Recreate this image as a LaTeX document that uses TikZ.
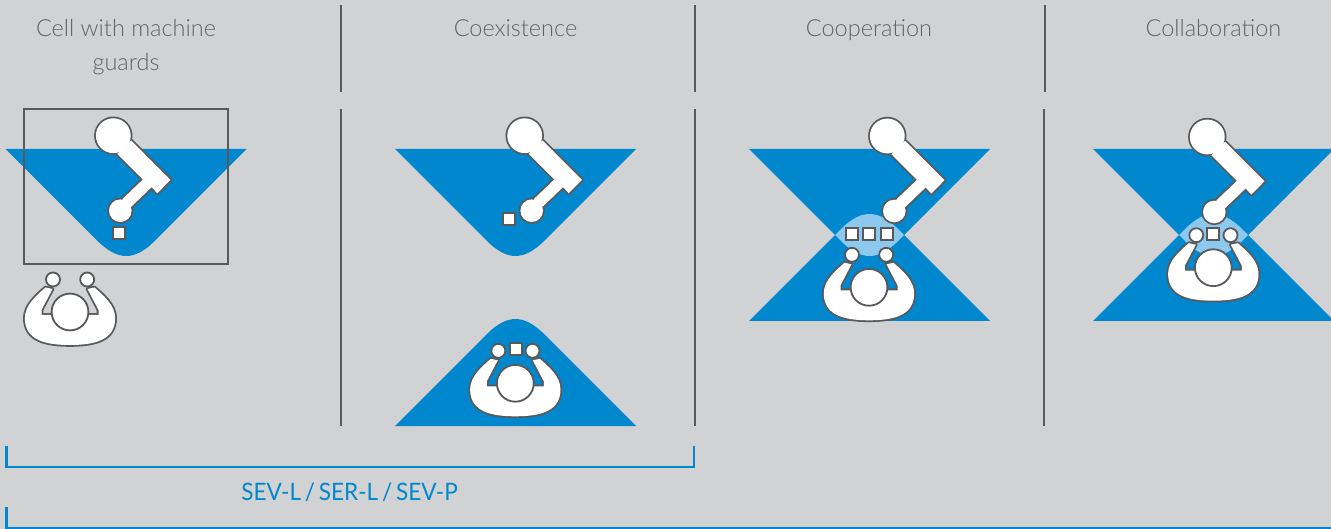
\documentclass[tikz,border=0pt]{standalone}
\usepackage{fontspec}
\setmainfont{Lato Light}
\newfontfamily\labelfont{Lato}
\definecolor{bgc}{HTML}{D0D2D4}
\definecolor{zone}{HTML}{0087CD}
\definecolor{lens}{HTML}{8DC8EE}
\definecolor{ink}{HTML}{58595B}
\definecolor{txt}{HTML}{626365}
\newcommand\downpath{(-120.5,0) -- (120.5,0) -- (27,93.5) .. controls (18,102) and (9,107) .. (0,107) .. controls (-9,107) and (-18,102) .. (-27,93.5) -- cycle}
\newcommand\armlink{(17.8,4.8) -- (57.2,44.2) -- (44,57.6) -- (38.4,51.4) -- (18,71) -- (9,63.5) -- (29.6,43.8) -- (4,18.2) -- cycle}
\newcommand\armbase{(0,0) circle[radius=17.4pt]}
\newcommand\armtool{(7,75) circle[radius=11.3pt]}
\newcommand\bodyshape{(-24.5,-24.5) .. controls (-33,-17) and (-45.2,-7) .. (-45.2,6) .. controls (-45.2,28) and (-25,33) .. (0,33) .. controls (25,33) and (45.2,28) .. (45.2,6) .. controls (45.2,-7) and (33,-17) .. (24.5,-24.5) -- (17.5,-23) -- (28.5,-2) -- (28.5,3) -- (-28.5,3) -- (-28.5,-2) -- (-17.5,-23) -- cycle}
\tikzset{
  x=1pt,y=-1pt,
  outline/.style={draw=ink,line width=3.6pt,line join=round},
  solidwhite/.style={fill=white,draw=none},
  ringed/.style={fill=white,draw=ink,line width=1.8pt},
  divider/.style={draw=ink,line width=2pt},
  bracket/.style={draw=zone,line width=2.2pt},
  head/.style={text=txt,font=\fontsize{23.5}{28}\selectfont,anchor=base,inner sep=0pt},
  arm/.pic={
    \path[outline] \armlink; \path[outline] \armbase; \path[outline] \armtool;
    \path[solidwhite] \armlink; \path[solidwhite] \armbase; \path[solidwhite] \armtool;},
  person/.pic={
    \path[outline] \bodyshape; \path[solidwhite] \bodyshape;
    \path[ringed] (0,0) circle[radius=18.4pt];
    \path[ringed] (-17,-32.5) circle[radius=7pt];
    \path[ringed] (17.2,-32.5) circle[radius=7pt];},
  piece/.pic={\draw[fill=white,draw=ink,line width=1.8pt] (-6,-6) rectangle (6,6);},
  zonedown/.pic={\fill[zone] \downpath;},
  zoneup/.pic={\begin{scope}[yscale=-1]\fill[zone] \downpath;\end{scope}},
  hourglass/.pic={
    \fill[zone] \downpath;
    \begin{scope}[shift={(0,172)},yscale=-1]\fill[zone] \downpath;\end{scope}
    \begin{scope}\clip \downpath;
      \begin{scope}[shift={(0,172)},yscale=-1]\fill[lens] \downpath;\end{scope}
    \end{scope}
  },
}
\begin{document}
\begin{tikzpicture}
\clip (0,0) rectangle (1331,529);
\fill[bgc] (0,0) rectangle (1331,529);
% headings
\node[head] (h1a) at (126,37) {Cell with machine};
\node[head] (h1b) at (126,71) {guards};
\node[head] (h2) at (515.5,37) {Coexistence};
\node[head] (h3) at (869,37) {Cooperation};
\node[head] (h4) at (1213.5,37) {Collaboration};
% dividers
\foreach \a/\b/\c/\d in {340.5/5/340.5/92, 340.5/109/340.5/426, 695/5/695/92, 695/109/695/426, 1045/5/1045/92, 1043.5/109/1043.5/426}
  \draw[divider] (\a,\b) -- (\c,\d);
% panel 1
\pic at (126.2,149) {zonedown};
\draw[draw=ink,line width=2pt] (24,109.5) rectangle (228,264.5);
\pic at (113.3,135.7) {arm};
\pic at (118.7,232.7) {piece};
\pic at (70,312) {person};
% panel 2
\pic at (515.5,149) {zonedown};
\pic at (515.5,426) {zoneup};
\pic at (524.7,135.7) {arm};
\pic at (509,219) {piece};
\pic at (516,349) {piece};
\pic at (515.3,383.3) {person};
% panel 3
\pic at (869.5,149) {hourglass};
\pic at (887.3,136) {arm};
\pic at (852,234.3) {piece};
\pic at (869,234.3) {piece};
\pic at (886.7,234.3) {piece};
\pic at (869,287.3) {person};
% panel 4
\pic at (1213.5,149) {hourglass};
\pic at (1207.3,137) {arm};
\pic at (1213.3,234.3) {piece};
\pic at (1213.3,267.7) {person};
% brackets
\draw[bracket] (6.5,446) -- (6.5,466.7) -- (693.8,466.7) -- (693.8,446);
\node[text=zone,font=\labelfont\fontsize{24}{28}\selectfont,inner sep=0pt,anchor=base] (sev) at (349.5,500) {\scalebox{0.94}[1]{SEV-L\,/\,SER-L\,/\,SEV-P}};
\draw[bracket] (6.5,507) -- (6.5,527.6) -- (1331,527.6);
\end{tikzpicture}
\end{document}
